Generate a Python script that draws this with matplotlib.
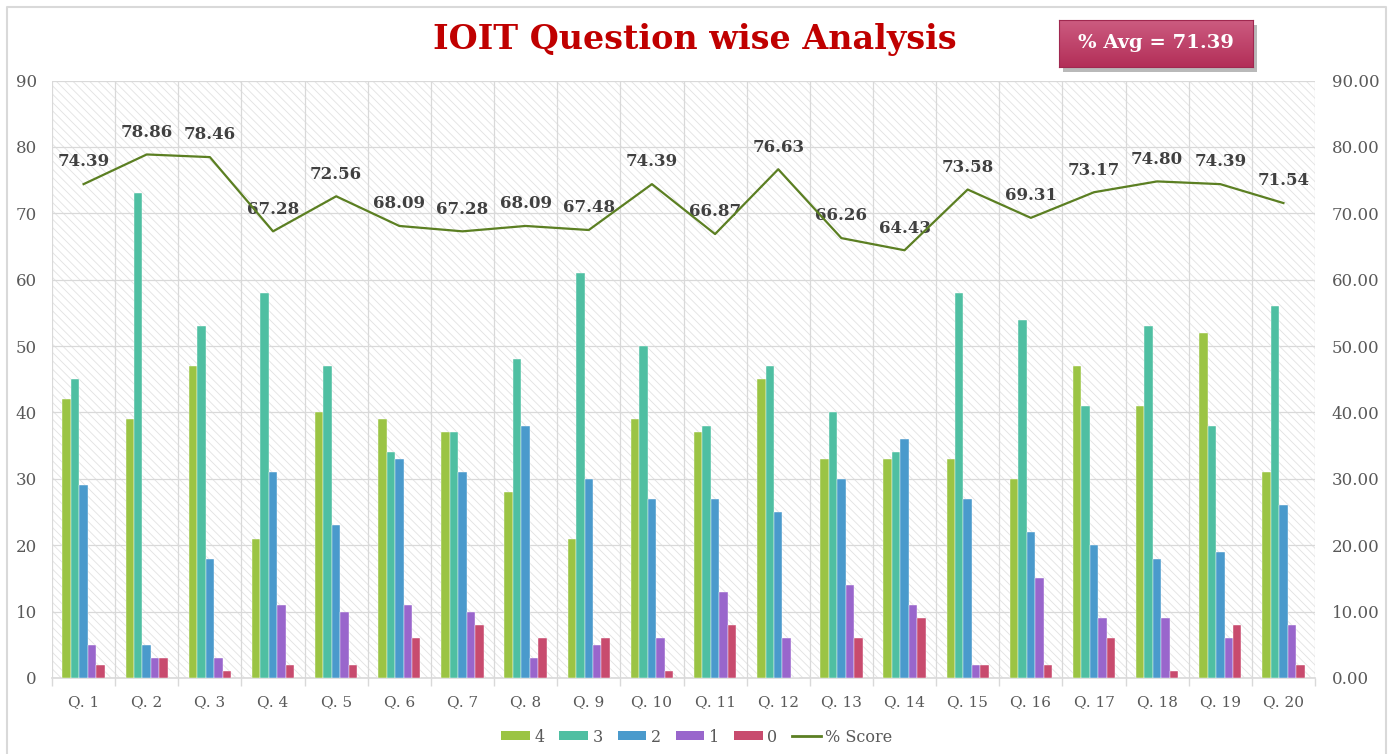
import numpy as np
import matplotlib
matplotlib.use('Agg')
import matplotlib.pyplot as plt
from matplotlib.patches import Rectangle, Patch
from matplotlib.lines import Line2D

plt.rcParams['font.family'] = ['DejaVu Serif']
plt.rcParams['hatch.linewidth'] = 0.6

questions = ['Q. %d' % i for i in range(1, 21)]
grade_4 = [42, 39, 47, 21, 40, 39, 37, 28, 21, 39, 37, 45, 33, 33, 33, 30, 47, 41, 52, 31]
grade_3 = [45, 73, 53, 58, 47, 34, 37, 48, 61, 50, 38, 47, 40, 34, 58, 54, 41, 53, 38, 56]
grade_2 = [29, 5, 18, 31, 23, 33, 31, 38, 30, 27, 27, 25, 30, 36, 27, 22, 20, 18, 19, 26]
grade_1 = [5, 3, 3, 11, 10, 11, 10, 3, 5, 6, 13, 6, 14, 11, 2, 15, 9, 9, 6, 8]
grade_0 = [2, 3, 1, 2, 2, 6, 8, 6, 6, 1, 8, 0, 6, 9, 2, 2, 6, 1, 8, 2]
pct_score = [74.39, 78.86, 78.46, 67.28, 72.56, 68.09, 67.28, 68.09, 67.48, 74.39,
             66.87, 76.63, 66.26, 64.43, 73.58, 69.31, 73.17, 74.80, 74.39, 71.54]
avg_score = 71.39

series = [('4', grade_4, '#9bc444'), ('3', grade_3, '#4fbfa2'), ('2', grade_2, '#4a9acc'),
          ('1', grade_1, '#9966cc'), ('0', grade_0, '#c84b6e')]
line_color = '#5b7f22'
text_gray = '#595959'
grid_gray = '#d9d9d9'

W, H = 1394, 754
fig = plt.figure(figsize=(W / 100, H / 100), dpi=100)
ax = fig.add_axes([52 / W, 1 - 678 / H, (1315 - 52) / W, (678 - 80.5) / H])

# hatched background of the plot area
ax.add_patch(Rectangle((0, 0), 1, 1, transform=ax.transAxes, facecolor='white',
                       edgecolor='#e2e2e2', hatch='\\\\\\\\', linewidth=0, zorder=0))

x = np.arange(len(questions))
bw = 0.134
for k, (name, vals, col) in enumerate(series):
    ax.bar(x + (k - 2) * bw, vals, bw, color=col, label=name, zorder=3,
           edgecolor='white', linewidth=0.3)

ax.set_xlim(-0.5, len(questions) - 0.5)
ax.set_ylim(0, 90)
ax.set_yticks(np.arange(0, 91, 10))
ax.set_xticks(x)
ax.set_xticklabels(questions)
ax.set_xticks(np.arange(-0.5, len(questions)), minor=True)
ax.tick_params(axis='x', which='major', length=0, pad=12, labelsize=11, colors=text_gray)
ax.tick_params(axis='x', which='minor', length=6, color=grid_gray, width=1)
ax.tick_params(axis='y', length=0, pad=11, labelsize=12, colors=text_gray)
ax.yaxis.grid(True, color=grid_gray, lw=0.9, zorder=1)
ax.xaxis.grid(True, which='minor', color=grid_gray, lw=0.9, zorder=1)
ax.set_axisbelow(True)
for s in ['left', 'right', 'top']:
    ax.spines[s].set_visible(False)
ax.spines['bottom'].set_color(grid_gray)
ax.spines['bottom'].set_linewidth(1.2)

ax2 = ax.twinx()
ax2.plot(x, pct_score, color=line_color, lw=1.6, zorder=4)
ax2.set_ylim(0, 90)
ax2.set_yticks(np.arange(0, 91, 10))
ax2.set_yticklabels(['%.2f' % v for v in np.arange(0, 91, 10)])
ax2.tick_params(axis='y', length=0, pad=12, labelsize=12, colors=text_gray)
for s in ax2.spines.values():
    s.set_visible(False)
for xi, v in zip(x, pct_score):
    ax2.annotate('%.2f' % v, (xi, v), xytext=(0, 16), textcoords='offset points',
                 ha='center', va='center', fontsize=12, fontweight='bold', color='#404040')

# title
fig.text(0.4986, 1 - 40 / H, 'IOIT Question wise Analysis', ha='center', va='center',
         fontsize=24, fontweight='bold', color='#c00000')

# average badge with shadow and gradient
bx0, by0, bx1, by1 = 1059, 20, 1253, 67
fig.add_artist(Rectangle(((bx0 + 4) / W, 1 - (by1 + 5) / H), (bx1 - bx0) / W, (by1 - by0) / H,
                         transform=fig.transFigure, facecolor='#808080', alpha=0.55,
                         edgecolor='none', zorder=-1))
bax = fig.add_axes([bx0 / W, 1 - by1 / H, (bx1 - bx0) / W, (by1 - by0) / H], zorder=5)
grad = np.linspace(0, 1, 100).reshape(-1, 1)
bax.imshow(grad, aspect='auto', cmap=matplotlib.colors.LinearSegmentedColormap.from_list(
    'badge', ['#cc5c80', '#b32e58']), extent=(0, 1, 0, 1))
bax.set_xticks([])
bax.set_yticks([])
for s in bax.spines.values():
    s.set_color('#a02850')
bax.text(0.5, 0.5, '%% Avg = %.2f' % avg_score, ha='center', va='center', color='white',
         fontsize=14, fontweight='bold', transform=bax.transAxes)

# outer frame
fig.add_artist(Line2D([7 / W, 7 / W, 1386 / W, 1386 / W], [0, 1 - 7 / H, 1 - 7 / H, 0],
                      transform=fig.transFigure, color='#d9d9d9', lw=1.5))

handles = [Patch(facecolor=c, label=n) for n, _, c in series]
handles.append(Line2D([0], [0], color=line_color, lw=2, label='% Score'))
fig.legend(handles=handles, loc='center', bbox_to_anchor=(0.5, 1 - 737 / H), ncol=6,
           frameon=False, fontsize=11.5, labelcolor=text_gray, handlelength=1.8,
           handleheight=0.5, columnspacing=0.9, handletextpad=0.3)

fig.savefig('out.png', dpi=100)
